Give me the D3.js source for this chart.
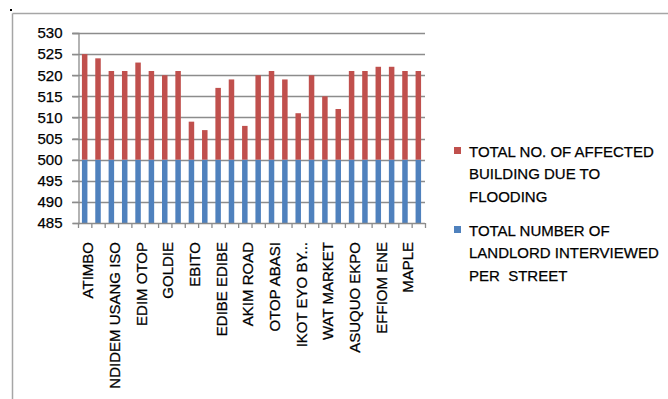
<!DOCTYPE html>
<html>
<head>
<meta charset="utf-8">
<script src="https://cdn.jsdelivr.net/npm/d3@7/dist/d3.min.js"></script>
<style>
  html, body { margin: 0; padding: 0; background: #fff; }
  svg { display: block; }
  text { font-family: "Liberation Sans", Arial, sans-serif; fill: #000; stroke: #000; stroke-width: 0.25px; white-space: pre; }
</style>
</head>
<body>
<svg id="chart" width="668" height="399"></svg>
<script>
// Street names (only every second one is shown on the axis in the reference)
const categories = [
  "ATIMBO", "", "NDIDEM USANG ISO", "", "EDIM OTOP", "", "GOLDIE", "",
  "EBITO", "", "EDIBE EDIBE", "", "AKIM ROAD", "", "OTOP ABASI", "",
  "IKOT EYO BY...", "", "WAT MARKET", "", "ASUQUO EKPO", "", "EFFIOM ENE", "",
  "MAPLE", ""
];
// Total number of landlords interviewed per street
const landlords = [500,500,500,500,500,500,500,500,500,500,500,500,500,
                   500,500,500,500,500,500,500,500,500,500,500,500,500];
// Top of the affected-building bar (value on the axis)
const affected = [525,524,521,521,523,521,520,521,509,507,517,519,508,
                  520,521,519,511,520,515,512,521,521,522,522,521,521];
const yTicks = [485,490,495,500,505,510,515,520,525,530];
const seriesNames = [
  ["TOTAL NO. OF AFFECTED", "BUILDING DUE TO", "FLOODING"],
  ["TOTAL NUMBER OF", "LANDLORD INTERVIEWED", "PER  STREET"]
];
const colors = ["#C0504D", "#4F81BD"];

const svg = d3.select("#chart");

// outer frame
svg.append("line").attr("x1", 12.5).attr("x2", 668).attr("y1", 13.5).attr("y2", 13.5)
  .attr("stroke", "#a6a6a6").attr("stroke-width", 1.5);
svg.append("line").attr("x1", 12.5).attr("x2", 12.5).attr("y1", 13.5).attr("y2", 399)
  .attr("stroke", "#a6a6a6").attr("stroke-width", 1.5);
svg.append("rect").attr("x", 10).attr("y", 9).attr("width", 2).attr("height", 2).attr("fill", "#000");

const plot = { left: 78, right: 425, top: 33, bottom: 223 };

const x = d3.scaleBand().domain(d3.range(categories.length))
  .range([plot.left, plot.right]).paddingInner(0).paddingOuter(0);
const y = d3.scaleLinear().domain([485, 530]).range([plot.bottom, plot.top]);

// gridlines
svg.append("g").selectAll("line").data(yTicks.slice(1)).join("line")
  .attr("x1", plot.left - 6).attr("x2", plot.right)
  .attr("y1", d => Math.round(y(d)) + 0.5).attr("y2", d => Math.round(y(d)) + 0.5)
  .attr("stroke", "#8c8c8c").attr("stroke-width", 1.3);

// y axis
const yAxis = svg.append("g").attr("transform", `translate(${plot.left + 0.5},0)`)
  .call(d3.axisLeft(y).tickValues(yTicks).tickSize(6).tickPadding(10).tickFormat(d3.format("d")));
yAxis.select(".domain").attr("stroke", "#8c8c8c").attr("stroke-width", 1.3);
yAxis.selectAll(".tick line").attr("stroke", "#8c8c8c").attr("stroke-width", 1.3);
yAxis.selectAll(".tick text").style("font-size", "15px").attr("fill", "#000");

// bars
const barW = 5.5;
const g = svg.append("g");
g.selectAll("rect.blue").data(landlords).join("rect").attr("class", "blue")
  .attr("x", (d, i) => x(i) + (x.bandwidth() - barW) / 2)
  .attr("width", barW)
  .attr("y", d => y(d))
  .attr("height", d => y(485) - y(d))
  .attr("fill", colors[1]);
g.selectAll("rect.red").data(affected).join("rect").attr("class", "red")
  .attr("x", (d, i) => x(i) + (x.bandwidth() - barW) / 2)
  .attr("width", barW)
  .attr("y", d => y(d))
  .attr("height", (d, i) => y(landlords[i]) - y(d))
  .attr("fill", colors[0]);

// x axis line and ticks at category boundaries
const xa = svg.append("g");
xa.append("line").attr("x1", plot.left).attr("x2", plot.right)
  .attr("y1", plot.bottom + 0.5).attr("y2", plot.bottom + 0.5)
  .attr("stroke", "#8c8c8c").attr("stroke-width", 1.3);
xa.selectAll("line.tk").data(d3.range(categories.length + 1)).join("line").attr("class", "tk")
  .attr("x1", i => (i < categories.length ? x(i) : plot.right) + 0.5)
  .attr("x2", i => (i < categories.length ? x(i) : plot.right) + 0.5)
  .attr("y1", plot.bottom).attr("y2", plot.bottom + 5)
  .attr("stroke", "#8c8c8c").attr("stroke-width", 1.3);
xa.selectAll("text").data(categories.map((c, i) => ({ c, i })).filter(d => d.c !== "")).join("text")
  .attr("transform", d => `translate(${x(d.i) + x.bandwidth() / 2 + 8.5},${plot.bottom + 19}) rotate(-90)`)
  .attr("text-anchor", "end")
  .style("font-size", "15px")
  .text(d => d.c);

// legend
const leg = svg.append("g");
const legY = [147, 226];
seriesNames.forEach((lines, k) => {
  leg.append("rect").attr("x", 454).attr("y", legY[k]).attr("width", 7).attr("height", 7).attr("fill", colors[k]);
  lines.forEach((t, j) => {
    leg.append("text").attr("x", 469).attr("y", legY[k] + 10 + j * 22.3)
      .style("font-size", "15px").text(t);
  });
});
</script>
</body>
</html>
